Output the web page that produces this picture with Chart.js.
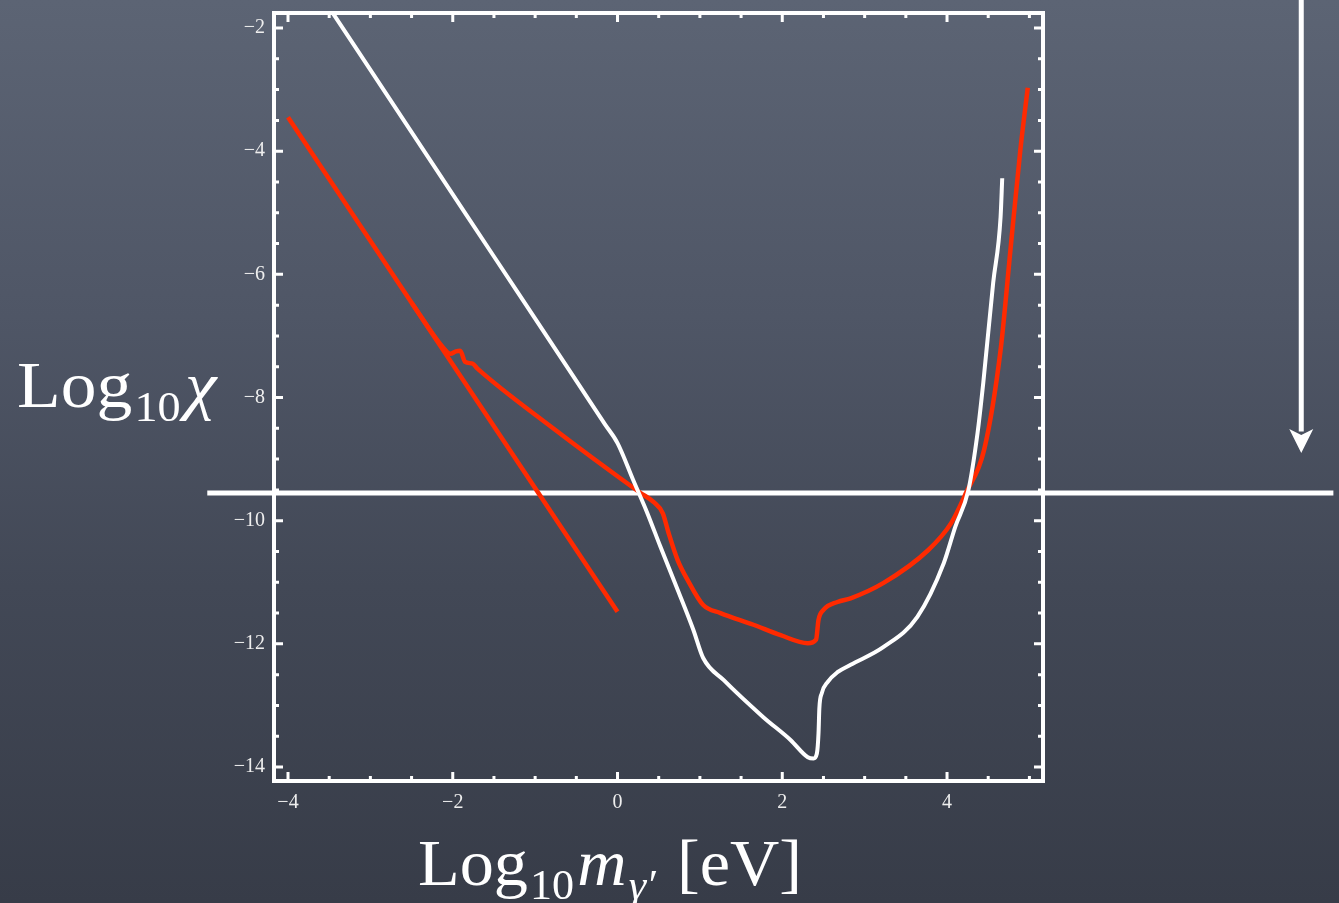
<!DOCTYPE html>
<html>
<head>
<meta charset="utf-8">
<script src="https://cdn.jsdelivr.net/npm/chart.js@4.4.0/dist/chart.umd.min.js"></script>
<style>
  html, body { margin: 0; padding: 0; overflow: hidden; }
  #wrap {
    width: 1339px; height: 903px; position: relative;
    background: linear-gradient(180deg, #5c6474 0%, #4f5666 35%, #424856 65%, #373c48 100%);
  }
</style>
</head>
<body>
<div id="wrap"><canvas id="chart"></canvas></div>
<script>
// white limit curve
const whiteX = [-3.47, -2.5, -1.5, -1.0, -0.5, -0.15, 0.0, 0.19, 0.36, 0.52, 0.73, 0.92, 1.04, 1.29, 1.77, 2.10, 2.31, 2.38, 2.42, 2.44, 2.45, 2.48, 2.55, 2.67, 2.83, 3.23, 3.64, 3.96, 4.10, 4.26, 4.37, 4.44, 4.56, 4.65, 4.67];
const whiteY = [-1.73, -3.69, -5.71, -6.72, -7.73, -8.44, -8.74, -9.34, -9.87, -10.42, -11.12, -11.77, -12.23, -12.59, -13.19, -13.56, -13.84, -13.86, -13.78, -13.45, -13.05, -12.80, -12.62, -12.46, -12.34, -12.05, -11.56, -10.69, -10.10, -9.50, -8.58, -7.76, -6.14, -5.07, -4.44];

// red straight line
const redAX = [-4.0, 0.0];
const redAY = [-3.45, -11.48];

// red curve
const redBX = [-2.5, -2.11, -2.03, -1.96, -1.91, -1.85, -1.76, -1.70, -0.81, 0.28, 0.44, 0.55, 0.62, 0.73, 0.85, 1.04, 1.25, 1.65, 1.98, 2.31, 2.41, 2.44, 2.50, 2.67, 2.83, 3.23, 3.77, 4.05, 4.23, 4.45, 4.65, 4.77, 4.89, 4.98];
const redBY = [-6.46, -7.20, -7.29, -7.25, -7.24, -7.42, -7.45, -7.53, -8.47, -9.55, -9.70, -9.88, -10.20, -10.64, -10.96, -11.37, -11.50, -11.69, -11.86, -11.99, -11.93, -11.61, -11.45, -11.32, -11.26, -11.01, -10.48, -10.04, -9.55, -8.85, -7.23, -5.60, -3.98, -2.97];

// horizontal cut line and arrow
const cutX = [-4.98, 8.69];
const cutY = -9.55;
const arrowX = 8.30;
const arrowY = [-1.4, -8.55];
const arrowTip = -8.90;

// axis ticks
const xTicks = [-4, -2, 0, 2, 4];
const yTicks = [-14, -12, -10, -8, -6, -4, -2];

function zip(xs, ys) {
  return xs.map((x, i) => ({ x: x, y: ys[i] }));
}

function fmt(v) {
  return v < 0 ? '\u2212' + Math.abs(v) : String(v);
}

const serif = '"Liberation Serif", "DejaVu Serif", serif';

// draws a run of text pieces, stretched a little sideways
function drawParts(ctx, parts, x, y, sx) {
  ctx.save();
  ctx.translate(x, y);
  ctx.scale(sx, 1);
  let cx = 0;
  for (const p of parts) {
    ctx.font = p.font;
    cx += (p.dx || 0);
    ctx.fillText(p.t, cx, p.dy || 0);
    cx += ctx.measureText(p.t).width;
  }
  ctx.restore();
}

const framePlugin = {
  id: 'frame',
  afterDatasetsDraw(chart) {
    const ctx = chart.ctx;
    const a = chart.chartArea;
    const xs = chart.scales.x;
    const ys = chart.scales.y;
    ctx.save();
    ctx.strokeStyle = '#ffffff';
    ctx.fillStyle = '#ffffff';

    // inward ticks, every 0.5, long ones on the labelled values
    ctx.lineWidth = 3;
    for (let v = -4; v <= 5; v += 0.5) {
      const px = xs.getPixelForValue(v);
      const len = xTicks.includes(v) ? 9 : 5;
      ctx.beginPath();
      ctx.moveTo(px, a.bottom); ctx.lineTo(px, a.bottom - len);
      ctx.moveTo(px, a.top); ctx.lineTo(px, a.top + len);
      ctx.stroke();
    }
    for (let v = -14; v <= -2; v += 0.5) {
      const py = ys.getPixelForValue(v);
      const len = yTicks.includes(v) ? 9 : 5;
      ctx.beginPath();
      ctx.moveTo(a.left, py); ctx.lineTo(a.left + len, py);
      ctx.moveTo(a.right, py); ctx.lineTo(a.right - len, py);
      ctx.stroke();
    }

    ctx.lineWidth = 4;
    ctx.strokeRect(a.left, a.top, a.right - a.left, a.bottom - a.top);

    // arrow head
    const hx = xs.getPixelForValue(arrowX);
    const hy = ys.getPixelForValue(arrowTip);
    ctx.beginPath();
    ctx.moveTo(hx, hy);
    ctx.lineTo(hx - 12, hy - 24);
    ctx.lineTo(hx, hy - 18);
    ctx.lineTo(hx + 12, hy - 24);
    ctx.closePath();
    ctx.fill();

    // axis titles
    ctx.textBaseline = 'alphabetic';
    drawParts(ctx, [
      { t: 'Log', font: '65px ' + serif },
      { t: '10', font: '42px ' + serif, dy: 14, dx: 2 },
      { t: '\u03c7', font: 'italic 65px ' + serif, dx: 4 }
    ], 17, 407, 1.1);
    drawParts(ctx, [
      { t: 'Log', font: '65px ' + serif },
      { t: '10', font: '42px ' + serif, dy: 14, dx: 2 },
      { t: 'm', font: 'italic 65px ' + serif, dx: 3 },
      { t: '\u03b3\u2032', font: 'italic 42px ' + serif, dy: 14, dx: 2 },
      { t: ' [eV]', font: '65px ' + serif, dx: 4 }
    ], 418, 885, 1.05);
    ctx.restore();
  }
};

new Chart(document.getElementById('chart'), {
  type: 'line',
  data: {
    datasets: [{
      data: zip(whiteX, whiteY),
      borderColor: '#ffffff',
      borderWidth: 4,
      cubicInterpolationMode: 'monotone'
    }, {
      data: zip(redAX, redAY),
      borderColor: '#ff2a00',
      borderWidth: 4.5
    }, {
      data: zip(redBX, redBY),
      borderColor: '#ff2a00',
      borderWidth: 4.5,
      cubicInterpolationMode: 'monotone'
    }, {
      data: zip(cutX, [cutY, cutY]),
      borderColor: '#ffffff',
      borderWidth: 5,
      clip: false
    }, {
      data: zip([arrowX, arrowX], arrowY),
      borderColor: '#ffffff',
      borderWidth: 5,
      clip: false
    }]
  },
  options: {
    responsive: true,
    maintainAspectRatio: false,
    animation: false,
    layout: { padding: { left: 0, top: 13, right: 296, bottom: 0 } },
    elements: { point: { radius: 0 } },
    plugins: { legend: { display: false }, tooltip: { enabled: false } },
    scales: {
      x: {
        type: 'linear',
        min: -4.17,
        max: 5.165,
        afterBuildTicks: (axis) => { axis.ticks = xTicks.map(v => ({ value: v })); },
        afterFit: (axis) => { axis.height = 122; axis.paddingLeft = 0; axis.paddingRight = 0; },
        grid: { display: false, drawTicks: false },
        border: { display: false },
        ticks: {
          color: '#eeeeee',
          font: { family: serif, size: 20 },
          padding: 10,
          maxRotation: 0,
          autoSkip: false,
          callback: (v) => fmt(v)
        }
      },
      y: {
        type: 'linear',
        min: -14.227,
        max: -1.756,
        afterBuildTicks: (axis) => { axis.ticks = yTicks.map(v => ({ value: v })); },
        afterFit: (axis) => { axis.width = 274; axis.paddingTop = 0; axis.paddingBottom = 0; },
        grid: { display: false, drawTicks: false },
        border: { display: false },
        ticks: {
          color: '#eeeeee',
          font: { family: serif, size: 20 },
          padding: 9,
          autoSkip: false,
          callback: (v) => fmt(v)
        }
      }
    }
  },
  plugins: [framePlugin]
});
</script>
</body>
</html>
